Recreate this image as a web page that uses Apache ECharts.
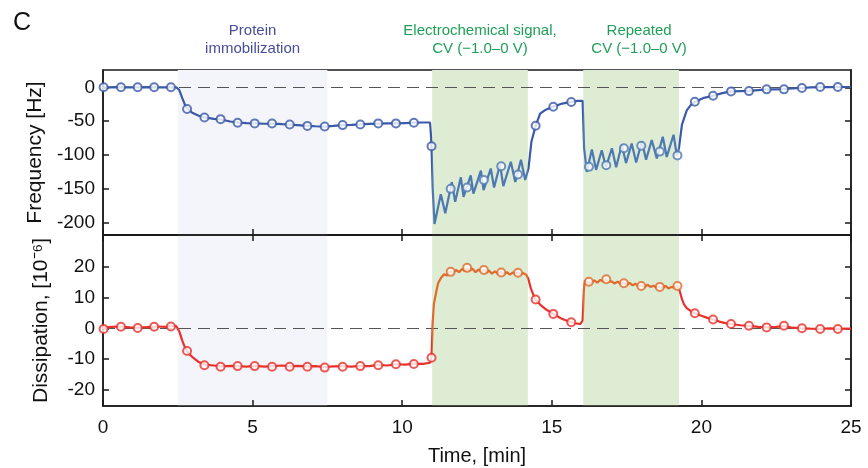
<!DOCTYPE html>
<html><head><meta charset="utf-8">
<script src="https://cdn.jsdelivr.net/npm/echarts@6/dist/echarts.min.js"></script>
<style>html,body{margin:0;padding:0;background:#fff}#c{width:868px;height:468px}</style>
</head><body><div id="c"></div>
<script>
const FONT = "'Liberation Sans', Arial, Helvetica, sans-serif";

// ---- data ----
const freqTicks = [-200, -150, -100, -50, 0];
const dissTicks = [-20, -10, 0, 10, 20];

const regionStart = [2.5, 11.0, 16.05];
const regionEnd = [7.5, 14.2, 19.25];
const regionLabels = ['Protein\nimmobilization', 'Electrochemical signal,\nCV (\u22121.0\u20130 V)', 'Repeated\nCV (\u22121.0\u20130 V)'];

// frequency trace [time (min), Δf (Hz)]
const frequencyLine = [
  [0,0],[0.5,0.4],[1.0,0],[1.5,0.3],[2.0,0],[2.45,0],[2.55,-4],[2.65,-16],[2.75,-27],[2.85,-33],
  [3.0,-38],[3.2,-42],[3.4,-44.5],[3.7,-46.5],[3.95,-47.5],[4.25,-50.5],[4.5,-52],[4.8,-53],[5.07,-53.3],
  [5.4,-53.8],[5.65,-53.5],[6.0,-54.5],[6.24,-55],[6.5,-55.8],[6.83,-57],[7.1,-57.5],[7.41,-58],[7.7,-57],
  [8.01,-55.8],[8.3,-55.5],[8.6,-54.8],[8.9,-54],[9.2,-53.5],[9.5,-53.3],[9.79,-53.3],[10.1,-52.8],
  [10.39,-52.3],[10.7,-52],[10.93,-52],[10.96,-70],[10.98,-87],[11.02,-150],[11.08,-202],
  [11.29,-158],[11.44,-186],[11.66,-140],[11.77,-169],[11.96,-133],[12.05,-162],[12.29,-130],[12.38,-157],
  [12.63,-123],[12.72,-152],[12.96,-120],[13.07,-148],[13.27,-114],[13.38,-146],[13.63,-110],[13.78,-140],
  [13.97,-107],[14.11,-137],[14.22,-120],[14.32,-80],[14.46,-57],[14.61,-39],[14.8,-33],[15.05,-28.5],
  [15.35,-24],[15.65,-21.5],[15.85,-20],[16.03,-20],[16.08,-90],[16.17,-125],[16.34,-92],[16.48,-122],
  [16.67,-93],[16.81,-118],[17.01,-90],[17.15,-118],[17.34,-85],[17.48,-112],[17.67,-83],[17.82,-111],
  [18.01,-80],[18.15,-107],[18.34,-78],[18.51,-105],[18.71,-73],[18.84,-103],[19.07,-70],[19.18,-101],
  [19.25,-90],[19.35,-55],[19.51,-34],[19.65,-26],[19.78,-21.5],[20.05,-16],[20.39,-12.5],[20.7,-8.5],
  [20.99,-6],[21.3,-5.5],[21.59,-5.2],[21.9,-4],[22.18,-3],[22.5,-3],[22.76,-2.5],[23.05,-1.5],[23.36,-1],
  [23.65,-0.2],[23.97,0.3],[24.3,0.3],[24.56,0.5],[25,0.5]
];

// dissipation trace [time (min), ΔD (1e-6)]
const dissipationLine = [
  [0,0.2],[0.3,0.5],[0.6,0.6],[0.9,0.3],[1.2,0.2],[1.5,0.4],[1.8,0.6],[2.1,0.5],[2.3,0.8],[2.45,0.7],
  [2.55,-1],[2.65,-4],[2.75,-6.5],[2.85,-8],[3.0,-9.5],[3.2,-11],[3.4,-11.8],[3.7,-12.1],[3.95,-12.4],
  [4.3,-12.2],[4.5,-12.3],[4.8,-12.5],[5.07,-12.2],[5.4,-12.5],[5.65,-12.3],[6.0,-12.1],[6.24,-12.4],
  [6.5,-12.2],[6.83,-12.4],[7.1,-12.3],[7.41,-12.6],[7.7,-12.4],[8.01,-12.3],[8.3,-12.5],[8.6,-12.2],
  [8.9,-12.3],[9.2,-11.9],[9.5,-12.1],[9.79,-11.7],[10.1,-11.8],[10.39,-11.5],[10.7,-11.6],[10.93,-11.2],
  [10.98,-9.5],[11.02,2],[11.06,8],[11.1,10],[11.15,12.5],[11.2,14.7],[11.3,16.5],[11.4,17.6],[11.5,17.2],
  [11.6,18.6],[11.7,18.0],[11.8,19.0],[11.9,18.3],[12.0,19.3],[12.1,18.6],[12.17,19.6],[12.25,18.8],
  [12.35,19.4],[12.45,18.3],[12.55,19.1],[12.65,18.4],[12.73,19.0],[12.82,18.1],[12.9,18.8],[13.0,17.8],
  [13.1,18.6],[13.2,17.7],[13.3,18.4],[13.4,17.6],[13.5,18.3],[13.6,17.5],[13.7,18.2],[13.8,17.6],
  [13.87,18.3],[13.95,17.5],[14.05,18.0],[14.15,17.4],[14.22,16],[14.3,13],[14.4,10.5],[14.46,9.4],
  [14.6,7.8],[14.8,6.2],[15.05,4.7],[15.3,3.3],[15.5,2.5],[15.65,2.0],[15.8,1.6],[15.95,1.4],[16.03,2.5],
  [16.07,12],[16.1,15.5],[16.18,15.0],[16.24,15.4],[16.32,14.8],[16.42,15.6],[16.52,14.9],[16.62,15.8],
  [16.72,15.2],[16.82,16.0],[16.9,15.1],[17.0,15.3],[17.1,14.6],[17.2,15.2],[17.3,14.5],[17.41,14.8],
  [17.5,14.1],[17.6,14.8],[17.7,14.0],[17.8,14.5],[17.9,13.7],[17.99,13.9],[18.1,13.4],[18.2,14.2],
  [18.3,13.5],[18.4,13.9],[18.5,13.2],[18.61,13.6],[18.7,13.1],[18.8,13.8],[18.9,13.0],[19.0,13.5],
  [19.1,13.2],[19.2,13.9],[19.28,12],[19.35,9.5],[19.42,7.8],[19.51,6.6],[19.65,5.6],[19.78,4.9],
  [20.0,4.1],[20.2,3.4],[20.39,2.9],[20.6,2.2],[20.8,1.7],[20.99,1.4],[21.3,1.0],[21.59,0.8],[21.9,0.5],
  [22.18,0.3],[22.5,0.5],[22.76,0.7],[23.05,0.2],[23.36,0.0],[23.65,-0.1],[23.97,-0.2],[24.3,0],
  [24.56,-0.2],[25,-0.1]
];

// marker (open circle) samples
const markerTimes = [0.02,0.6,1.16,1.71,2.27,2.81,3.39,3.93,4.5,5.07,5.65,6.24,6.83,7.41,8.01,8.6,9.2,9.79,
  10.39,10.98,11.62,12.17,12.73,13.31,13.87,14.46,15.05,15.65,16.24,16.82,17.41,17.99,18.61,19.2,19.78,
  20.39,20.99,21.59,22.18,22.76,23.36,23.97,24.56];
const frequencyMarkers = [0,0,0,0,0,-32,-44.5,-47,-52.3,-53.3,-53.5,-54.8,-57,-58,-55.8,-54.8,-53.3,-53.3,
  -52.3,-87,-150,-148,-137,-116.5,-128.7,-56.8,-28.7,-21.7,-117.5,-115,-90,-86.4,-95,-100.6,-21.3,-12.4,
  -6,-5.6,-3,-3,-1,0.5,0.5];
const dissipationMarkers = [-0.2,0.5,0.1,0.5,0.6,-7.4,-12,-12.5,-12.3,-12.3,-12.5,-12.5,-12.5,-12.8,-12.5,
  -12.3,-12,-11.7,-11.6,-9.6,18.4,19.7,19,18.2,18.1,9.4,4.7,2.0,15.2,16,14.7,13.8,13.5,13.8,4.9,2.9,1.4,
  0.85,0.3,0.85,0,-0.2,-0.2];

// ---- styles ----
const BLUE = '#3a59a8', STEEL = '#4d78b2', RED = '#e8312a', ORANGE = '#e0692c';
const AXIS = '#1a1a1a';
const regionFills = ['#f4f4fb', '#ddecd3', '#ddecd3'];
const regionTextColors = ['#4a4c9c', '#1f9f58', '#1f9f58'];
const regionLabelOffsets = [[0,0],[0,0],[8,0]];

const zip = (a, b) => a.map((t, i) => [t, b[i]]);

function pieces(base, alt) {
  const p = [{ lt: regionStart[1], color: base }];
  for (let i = 1; i < regionStart.length; i++) {
    p.push({ gte: regionStart[i], lt: regionEnd[i], color: alt });
    p.push({ gte: regionEnd[i], lt: i + 1 < regionStart.length ? regionStart[i + 1] : 1000, color: base });
  }
  return p;
}

function areas(withLabels) {
  return regionStart.map((s, i) => [
    {
      xAxis: s,
      itemStyle: { color: regionFills[i] },
      label: withLabels ? {
        show: true, position: 'top', distance: 12, formatter: regionLabels[i],
        color: regionTextColors[i], fontSize: 15, lineHeight: 18, fontFamily: FONT, align: 'center',
        offset: regionLabelOffsets[i]
      } : { show: false }
    },
    { xAxis: regionEnd[i] }
  ]);
}

const zeroLine = {
  silent: true, symbol: 'none', label: { show: false },
  lineStyle: { type: [12, 7], color: '#555', width: 1 },
  data: [{ yAxis: 0 }], z: 1
};

function xAxisBase(grid) {
  return {
    type: 'value', gridIndex: grid, min: 0, max: 25, interval: 5,
    axisLine: { show: true, onZero: false, lineStyle: { color: AXIS, width: 1.5 } },
    axisTick: { show: true, inside: true, length: 6, lineStyle: { color: AXIS, width: 1.5 } },
    splitLine: { show: false },
    axisLabel: { show: false }
  };
}
function yAxisBase(grid, min, max, ticks, pos) {
  return {
    type: 'value', gridIndex: grid, min: min, max: max, position: pos,
    axisLine: { show: true, onZero: false, lineStyle: { color: AXIS, width: 1.5 } },
    axisTick: { show: true, inside: true, length: 6, customValues: ticks, lineStyle: { color: AXIS, width: 1.5 } },
    splitLine: { show: false },
    axisLabel: { show: false, customValues: ticks }
  };
}

const x0 = xAxisBase(0);
const x1 = xAxisBase(1);
x1.axisLabel = { show: true, color: '#111', fontSize: 19, fontFamily: FONT, margin: 12 };
x1.name = 'Time, [min]';
x1.nameLocation = 'middle';
x1.nameGap = 40;
x1.nameTextStyle = { color: '#111', fontSize: 20, fontFamily: FONT };
const x2 = xAxisBase(1);
x2.position = 'top';

const yF = yAxisBase(0, -218.2, 25.6, freqTicks, 'left');
yF.axisLabel = { show: true, customValues: freqTicks, color: '#111', fontSize: 19, fontFamily: FONT, margin: 8 };
yF.name = 'Frequency [Hz]';
yF.nameLocation = 'middle';
yF.nameGap = 50;
yF.nameTextStyle = { color: '#111', fontSize: 21, fontFamily: FONT };
const yFR = yAxisBase(0, -218.2, 25.6, freqTicks, 'right');

const yD = yAxisBase(1, -25.3, 30.4, dissTicks, 'left');
yD.axisLabel = { show: true, customValues: dissTicks, color: '#111', fontSize: 19, fontFamily: FONT, margin: 8 };
yD.name = 'Dissipation, [10\u207B\u2076]';
yD.nameLocation = 'middle';
yD.nameGap = 51;
yD.nameTextStyle = { color: '#111', fontSize: 21, fontFamily: FONT };
const yDR = yAxisBase(1, -25.3, 30.4, dissTicks, 'right');

const option = {
  animation: false,
  backgroundColor: '#fff',
  title: { text: 'C', left: 8, top: 6, textStyle: { fontSize: 25, fontWeight: 'normal', color: '#111', fontFamily: FONT } },
  grid: [
    { left: 103, right: 17, top: 70, height: 165, show: true, borderColor: AXIS, borderWidth: 1.5, backgroundColor: 'transparent' },
    { left: 103, right: 17, top: 235, height: 171, show: true, borderColor: AXIS, borderWidth: 1.5, backgroundColor: 'transparent' }
  ],
  xAxis: [x0, x1, x2],
  yAxis: [yF, yFR, yD, yDR],
  visualMap: [
    { type: 'piecewise', show: false, dimension: 0, seriesIndex: [0, 1], pieces: pieces(BLUE, STEEL) },
    { type: 'piecewise', show: false, dimension: 0, seriesIndex: [2, 3], pieces: pieces(RED, ORANGE) }
  ],
  series: [
    {
      type: 'line', xAxisIndex: 0, yAxisIndex: 0, data: frequencyLine, showSymbol: false,
      lineStyle: { width: 2.2 }, z: 3,
      markArea: { silent: true, data: areas(true), z: 0 },
      markLine: zeroLine
    },
    {
      type: 'scatter', xAxisIndex: 0, yAxisIndex: 0, data: zip(markerTimes, frequencyMarkers),
      symbol: 'emptyCircle', symbolSize: 8, itemStyle: { borderWidth: 1.8 }, z: 4
    },
    {
      type: 'line', xAxisIndex: 1, yAxisIndex: 2, data: dissipationLine, showSymbol: false,
      lineStyle: { width: 2.2 }, z: 3,
      markArea: { silent: true, data: areas(false), z: 0 },
      markLine: zeroLine
    },
    {
      type: 'scatter', xAxisIndex: 1, yAxisIndex: 2, data: zip(markerTimes, dissipationMarkers),
      symbol: 'emptyCircle', symbolSize: 8, itemStyle: { borderWidth: 1.8 }, z: 4
    }
  ]
};

const chart = echarts.init(document.getElementById('c'), null, { renderer: 'canvas' });
chart.setOption(option);
</script></body></html>
